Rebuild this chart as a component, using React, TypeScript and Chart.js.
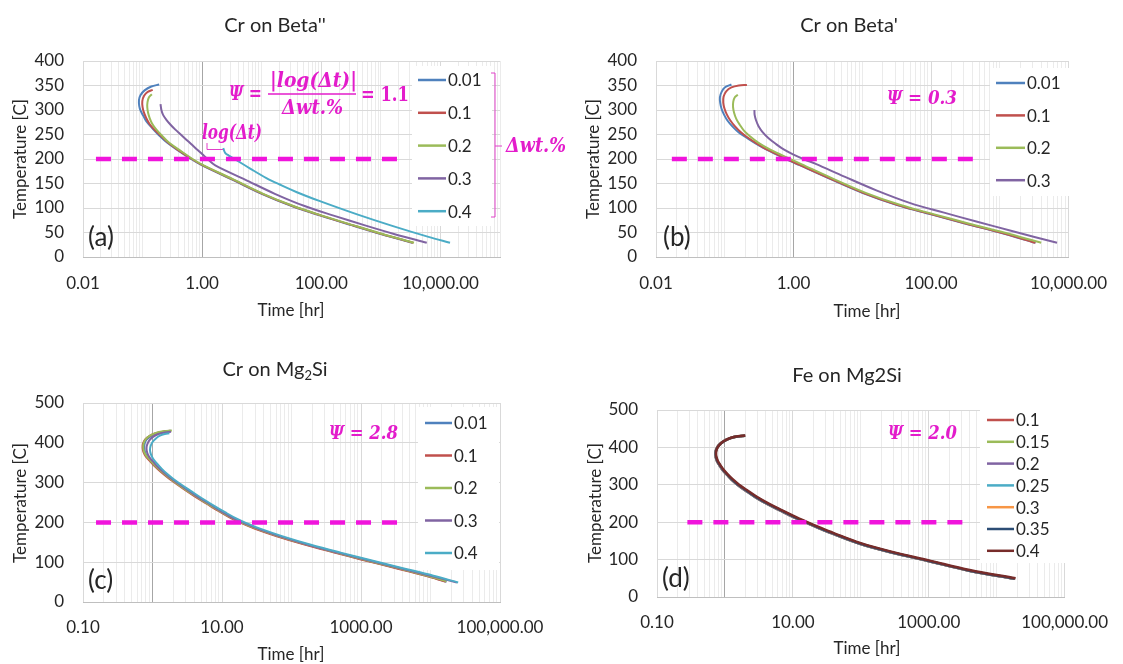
import React, { useEffect, useRef } from 'react';
import { Chart, registerables } from 'chart.js';

Chart.register(...registerables);

const W = 1123;
const H = 664;
const SANS = 'Lato, "Open Sans", "Noto Sans", sans-serif';
const SERIF = '"DejaVu Serif", "Liberation Serif", serif';
const INK = '#262626';
const MAGENTA = '#F014DC';
const MAGENTA_TEXT = '#E31CCB';
const Y_AXIS_W = 60;
const X_AXIS_H = 50;

// ---------- tick labels ----------
const X_MAJOR_AB = [0.01, 1, 100, 10000];
const X_LABEL_AB = ['0.01', '1.00', '100.00', '10,000.00'];
const X_MAJOR_CD = [0.1, 10, 1000, 100000];
const X_LABEL_CD = ['0.10', '10.00', '1000.00', '100,000.00'];

// ---------- legends / colours ----------
const LEGEND_ABC = ['0.01', '0.1', '0.2', '0.3', '0.4'];
const LEGEND_AB4 = ['0.01', '0.1', '0.2', '0.3'];
const LEGEND_D = ['0.1', '0.15', '0.2', '0.25', '0.3', '0.35', '0.4'];
const COLORS_ABC = ['#4F81BD', '#C0504D', '#9BBB59', '#8064A2', '#4BACC6'];
const COLORS_D = ['#C0504D', '#9BBB59', '#8064A2', '#4BACC6', '#F79646', '#2C4D75', '#772C2A'];

// ---------- (a) Cr on Beta''  [time hr, temperature C] ----------
const A_001 = [[0.19,352],[0.14,348],[0.108,340],[0.092,330],[0.087,320],[0.088,308],[0.093,298],[0.103,288],[0.117,276],[0.145,263],[0.19,248],[0.26,233],[0.40,217],[0.65,200],[1.0,187],[3.2,158],[10,129],[32,104],[100,84],[320,65],[1000,47],[3400,29]];
const A_01 = [[0.148,341],[0.122,337],[0.106,329],[0.099,318],[0.1,306],[0.106,294],[0.116,283],[0.13,272],[0.155,261],[0.2,248],[0.27,233],[0.41,217],[0.67,200],[1.03,187],[3.3,158],[10.3,129],[33,104],[103,84],[330,65],[1030,47],[3500,29]];
const A_02 = [[0.143,332],[0.128,326],[0.121,316],[0.12,305],[0.124,294],[0.132,283],[0.145,272],[0.168,261],[0.21,248],[0.28,233],[0.43,217],[0.69,200],[1.06,187],[3.4,158],[10.6,129],[34,104],[106,84],[340,65],[1060,47],[3600,29]];
const A_03 = [[0.2,312],[0.207,300],[0.221,290],[0.251,280],[0.295,270],[0.355,260],[0.437,250],[0.537,240],[0.66,230],[0.81,220],[1.0,210],[1.23,200],[1.66,187],[5.25,158],[16.6,129],[52.5,104],[166,84],[525,65],[1660,47],[5900,29]];
const A_04 = [[2.26,222],[2.45,212],[2.8,207],[3.5,200],[6.3,181],[12,161],[20,148],[45,129],[100,113],[400,87],[1600,63],[6300,41],[14500,29]];
const GUIDE_A = [[0.0165,200],[2450,200]];

// ---------- (b) Cr on Beta' ----------
const B_001 = [[0.125,352],[0.1,346],[0.09,337],[0.085,326],[0.086,314],[0.09,302],[0.098,290],[0.11,278],[0.13,266],[0.16,254],[0.2,245],[0.28,232],[0.42,218],[0.78,200],[1.2,188],[3.2,161],[10,131],[32,106],[100,87],[320,68],[1000,50],[3300,29]];
const B_01 = [[0.21,351],[0.16,350],[0.125,346],[0.105,338],[0.096,327],[0.095,315],[0.099,303],[0.107,291],[0.12,279],[0.14,267],[0.17,255],[0.21,245],[0.29,232],[0.43,218],[0.8,200],[1.23,188],[3.3,161],[10.3,131],[33,106],[103,87],[330,68],[1030,50],[3300,29]];
const B_02 = [[0.155,331],[0.14,326],[0.133,317],[0.132,306],[0.137,294],[0.147,282],[0.165,270],[0.19,258],[0.23,247],[0.31,233],[0.46,219],[0.86,201],[1.32,189],[3.6,161],[11.2,131],[36,106],[112,87],[360,68],[1150,50],[4000,29]];
const B_03 = [[0.27,300],[0.272,290],[0.285,279],[0.31,267],[0.355,255],[0.43,243],[0.55,231],[0.73,219],[1.0,209],[1.45,199],[2.1,190],[5.5,164],[16,136],[50,110],[150,91],[470,72],[1500,53],[6800,29]];
const GUIDE_B = [[0.017,200],[415,200]];

// ---------- (c) Cr on Mg2Si ----------
const C_001 = [[1.85,430],[1.45,428],[1.15,424],[0.95,417],[0.82,408],[0.77,398],[0.76,388],[0.78,377],[0.84,366],[0.97,354],[1.13,341],[1.36,328],[1.68,315],[2.1,302],[2.95,284],[4.2,266],[6.3,247],[9.5,228],[13.7,212],[19,200],[31.5,184],[63,166],[158,145],[420,125],[1050,107],[3150,86],[8400,67],[17000,51]];
const C_01 = [[1.8,430],[1.4,428],[1.1,424],[0.9,417],[0.78,408],[0.73,398],[0.72,388],[0.74,377],[0.8,366],[0.92,354],[1.08,341],[1.3,328],[1.6,315],[2.0,302],[2.8,284],[4.0,266],[6.0,247],[9.0,228],[13,212],[18,200],[30,184],[60,166],[150,145],[400,125],[1000,107],[3000,86],[8000,67],[16600,51]];
const C_02 = [[1.9,431],[1.45,429],[1.12,425],[0.92,418],[0.8,409],[0.745,399],[0.735,389],[0.755,378],[0.815,367],[0.94,355],[1.1,342],[1.33,329],[1.63,316],[2.04,303],[2.85,285],[4.1,267],[6.1,248],[9.2,229],[13.3,213],[18.4,201],[30.6,185],[61,167],[153,146],[408,126],[1020,108],[3060,87],[8200,68],[17000,52]];
const C_03 = [[1.85,428],[1.5,426],[1.22,422],[1.02,415],[0.9,406],[0.84,396],[0.82,386],[0.84,375],[0.9,364],[1.03,352],[1.2,339],[1.45,326],[1.78,313],[2.25,300],[3.15,282],[4.5,264],[6.8,245],[10.2,226],[14.8,210],[20.5,199],[34,183],[69,165],[175,144],[470,124],[1200,106],[3700,85],[10000,66],[24000,49]];
const C_04 = [[1.75,424],[1.5,422],[1.28,418],[1.12,411],[1.0,402],[0.94,392],[0.92,382],[0.95,371],[1.02,360],[1.16,348],[1.35,335],[1.62,322],[2.0,309],[2.5,297],[3.5,280],[5.0,262],[7.5,243],[11.2,225],[16,210],[22,199],[37,183],[75,165],[190,144],[510,124],[1300,106],[4000,85],[11000,66],[25000,49]];
const GUIDE_C = [[0.154,200],[4260,200]];

// ---------- (d) Fe on Mg2Si ----------
const D_LOW = [[1.95,431],[1.5,429],[1.17,424],[0.95,416],[0.81,406],[0.745,395],[0.725,384],[0.735,373],[0.77,362],[0.84,351],[0.93,339],[1.07,327],[1.25,314],[1.53,300],[2.0,285],[2.8,267],[4.25,248],[6.7,230],[10.4,213],[15,200],[23.5,185],[37.5,170],[94,143],[282,119],[940,97],[3760,71],[18000,49]];
const D_MID = [[1.98,431],[1.52,429],[1.18,424],[0.96,416],[0.82,406],[0.75,395],[0.73,384],[0.74,373],[0.78,362],[0.85,351],[0.945,339],[1.08,327],[1.27,314],[1.56,300],[2.05,285],[2.87,267],[4.37,248],[6.9,230],[10.7,213],[15.5,200],[24.2,185],[38.8,170],[97,143],[291,119],[970,97],[3880,71],[18500,49]];
const D_HIGH = [[2.0,432],[1.55,430],[1.2,425],[0.97,417],[0.83,407],[0.76,396],[0.74,385],[0.75,374],[0.79,363],[0.86,352],[0.96,340],[1.1,328],[1.3,315],[1.6,301],[2.1,286],[2.95,268],[4.5,249],[7.1,231],[11,214],[16,201],[25,186],[40,171],[100,144],[300,120],[1000,98],[4000,72],[19000,50]];
const GUIDE_D = [[0.28,200],[3160,200]];

type Pt = number[];
type Series = { label: string; color: string; data: Pt[] };
type Run = { t: string; sub?: boolean };
type Spec = {
  id: string;
  plot: { l: number; t: number; r: number; b: number };
  xMin: number; xMax: number; majors: number[]; labels: string[];
  yMax: number; yStep: number;
  series: Series[]; guide: Pt[]; lineWidth: number;
  title: Run[]; titleX: number; titleY: number;
  xTitle: { x: number; y: number }; yTitle: { x: number; y: number };
  tickPad: number;
  panel: { text: string; x: number; y: number };
  legend: { x0: number; x1: number; tx: number; y0: number; dy: number; box: number[] };
  extra: (ctx: CanvasRenderingContext2D) => void;
};

// gridline positions: 1..9 x 10^n between min and max
function buildLogTicks(min: number, max: number) {
  const out: number[] = [];
  let m = min;
  while (m <= max * 1.000001) {
    for (let k = 1; k <= 9; k++) {
      const v = m * k;
      if (v <= max * 1.000001) out.push(v);
    }
    m *= 10;
  }
  return out;
}

function majorIndex(v: number, majors: number[]) {
  for (let i = 0; i < majors.length; i++) if (Math.abs(v / majors[i] - 1) < 1e-6) return i;
  return -1;
}

function drawFit(ctx: CanvasRenderingContext2D, text: string, x0: number, x1: number, base: number, font: string, color: string) {
  ctx.save();
  ctx.font = font;
  const w = ctx.measureText(text).width;
  const sx = (x1 - x0) / w;
  ctx.translate(x0, base);
  ctx.scale(sx, 1);
  ctx.fillStyle = color;
  ctx.textAlign = 'left';
  ctx.textBaseline = 'alphabetic';
  ctx.fillText(text, 0, 0);
  ctx.restore();
}

function drawRuns(ctx: CanvasRenderingContext2D, runs: Run[], cx: number, base: number, size: number) {
  const fontN = `${size}px ${SANS}`;
  const fontS = `${Math.round(size * 0.65)}px ${SANS}`;
  let total = 0;
  for (const r of runs) { ctx.font = r.sub ? fontS : fontN; total += ctx.measureText(r.t).width; }
  let x = cx - total / 2;
  ctx.fillStyle = INK;
  ctx.textAlign = 'left';
  ctx.textBaseline = 'alphabetic';
  for (const r of runs) {
    ctx.font = r.sub ? fontS : fontN;
    ctx.fillText(r.t, x, r.sub ? base + size * 0.22 : base);
    x += ctx.measureText(r.t).width;
  }
}

const MATH_FONT = `bold italic 20px ${SERIF}`;

function extraA(ctx: CanvasRenderingContext2D) {
  drawFit(ctx, 'Ψ =', 229, 262, 100, MATH_FONT, MAGENTA_TEXT);
  drawFit(ctx, '|log(Δt)|', 270, 357, 87, MATH_FONT, MAGENTA_TEXT);
  drawFit(ctx, 'Δwt.%', 282, 343, 114, MATH_FONT, MAGENTA_TEXT);
  drawFit(ctx, '= 1.1', 361, 409, 101, `bold 20px ${SERIF}`, MAGENTA_TEXT);
  ctx.save();
  ctx.strokeStyle = MAGENTA_TEXT;
  ctx.lineWidth = 1.6;
  ctx.beginPath(); ctx.moveTo(268, 94); ctx.lineTo(356, 94); ctx.stroke();
  ctx.restore();
  drawFit(ctx, 'log(Δt)', 202, 262, 139, MATH_FONT, MAGENTA_TEXT);
  ctx.save();
  ctx.lineWidth = 1;
  ctx.strokeStyle = '#E040C8';
  ctx.beginPath();
  ctx.moveTo(207, 143); ctx.lineTo(207, 149.5); ctx.lineTo(223, 149.5);
  ctx.stroke();
  ctx.beginPath();
  ctx.moveTo(491, 73); ctx.lineTo(495, 73); ctx.lineTo(495, 217); ctx.lineTo(491, 217);
  ctx.moveTo(495, 146); ctx.lineTo(502, 146);
  ctx.stroke();
  ctx.restore();
  drawFit(ctx, 'Δwt.%', 506, 566, 152, MATH_FONT, MAGENTA_TEXT);
}
function extraB(ctx: CanvasRenderingContext2D) {
  drawFit(ctx, 'Ψ = 0.3', 887, 957, 104, `bold italic 19px ${SERIF}`, MAGENTA_TEXT);
}
function extraC(ctx: CanvasRenderingContext2D) {
  drawFit(ctx, 'Ψ = 2.8', 329, 398, 439, `bold italic 19px ${SERIF}`, MAGENTA_TEXT);
}
function extraD(ctx: CanvasRenderingContext2D) {
  drawFit(ctx, 'Ψ = 2.0', 888, 957, 439, `bold italic 19px ${SERIF}`, MAGENTA_TEXT);
}

const SPEC_A: Spec = {
  id: 'a', plot: { l: 83, t: 61, r: 500, b: 257 },
  xMin: 0.01, xMax: 100000, majors: X_MAJOR_AB, labels: X_LABEL_AB, yMax: 400, yStep: 50,
  series: [A_001, A_01, A_02, A_03, A_04].map((d, i) => ({ label: LEGEND_ABC[i], color: COLORS_ABC[i], data: d })),
  guide: GUIDE_A, lineWidth: 2,
  title: [{ t: "Cr on Beta''" }], titleX: 275, titleY: 32,
  xTitle: { x: 291, y: 316 }, yTitle: { x: 21, y: 159 }, tickPad: 16,
  panel: { text: '(a)', x: 88, y: 246 },
  legend: { x0: 418, x1: 446, tx: 448, y0: 80, dy: 32.8, box: [412, 66, 80, 160] },
  extra: extraA,
};
const SPEC_B: Spec = {
  id: 'b', plot: { l: 656, t: 61, r: 1079, b: 257 },
  xMin: 0.01, xMax: 10000, majors: X_MAJOR_AB, labels: X_LABEL_AB, yMax: 400, yStep: 50,
  series: [B_001, B_01, B_02, B_03].map((d, i) => ({ label: LEGEND_AB4[i], color: COLORS_ABC[i], data: d })),
  guide: GUIDE_B, lineWidth: 2,
  title: [{ t: "Cr on Beta'" }], titleX: 849, titleY: 32,
  xTitle: { x: 867, y: 317 }, yTitle: { x: 594, y: 159 }, tickPad: 16,
  panel: { text: '(b)', x: 663, y: 246 },
  legend: { x0: 996, x1: 1025, tx: 1027, y0: 83, dy: 32.4, box: [990, 68, 88, 128] },
  extra: extraB,
};
const SPEC_C: Spec = {
  id: 'c', plot: { l: 83, t: 403, r: 500, b: 602 },
  xMin: 0.1, xMax: 100000, majors: X_MAJOR_CD, labels: X_LABEL_CD, yMax: 500, yStep: 100,
  series: [C_001, C_01, C_02, C_03, C_04].map((d, i) => ({ label: LEGEND_ABC[i], color: COLORS_ABC[i], data: d })),
  guide: GUIDE_C, lineWidth: 2,
  title: [{ t: 'Cr on Mg' }, { t: '2', sub: true }, { t: 'Si' }], titleX: 275, titleY: 376,
  xTitle: { x: 291, y: 660 }, yTitle: { x: 21, y: 503 }, tickPad: 15,
  panel: { text: '(c)', x: 88, y: 589 },
  legend: { x0: 425, x1: 452, tx: 454, y0: 423, dy: 32.5, box: [418, 407, 81, 163] },
  extra: extraC,
};
const SPEC_D: Spec = {
  id: 'd', plot: { l: 657, t: 410, r: 1077, b: 597 },
  xMin: 0.1, xMax: 100000, majors: X_MAJOR_CD, labels: X_LABEL_CD, yMax: 500, yStep: 100,
  series: [D_LOW, D_LOW, D_LOW, D_MID, D_MID, D_MID, D_HIGH].map((d, i) => ({ label: LEGEND_D[i], color: COLORS_D[i], data: d })),
  guide: GUIDE_D, lineWidth: 2.5,
  title: [{ t: 'Fe on Mg2Si' }], titleX: 847, titleY: 382,
  xTitle: { x: 867, y: 654 }, yTitle: { x: 596, y: 503 }, tickPad: 15,
  panel: { text: '(d)', x: 662, y: 587 },
  legend: { x0: 987, x1: 1014, tx: 1016, y0: 420, dy: 21.8, box: [980, 409, 96, 154] },
  extra: extraD,
};

function decoPlugin(spec: Spec) {
  return {
    id: 'deco_' + spec.id,
    afterDraw(chart: any) {
      const ctx: CanvasRenderingContext2D = chart.ctx;
      ctx.save();
      const lg = spec.legend;
      ctx.fillStyle = '#ffffff';
      ctx.fillRect(lg.box[0], lg.box[1], lg.box[2], lg.box[3]);
      spec.series.forEach((s, i) => {
        const y = lg.y0 + i * lg.dy;
        ctx.strokeStyle = s.color;
        ctx.lineWidth = 2.5;
        ctx.beginPath(); ctx.moveTo(lg.x0, y); ctx.lineTo(lg.x1, y); ctx.stroke();
        ctx.fillStyle = INK;
        ctx.font = `17px ${SANS}`;
        ctx.textAlign = 'left';
        ctx.textBaseline = 'middle';
        ctx.fillText(s.label, lg.tx, y + 1);
      });
      drawRuns(ctx, spec.title, spec.titleX, spec.titleY, 20);
      ctx.fillStyle = INK;
      ctx.font = `17px ${SANS}`;
      ctx.textAlign = 'center';
      ctx.textBaseline = 'alphabetic';
      ctx.fillText('Time [hr]', spec.xTitle.x, spec.xTitle.y);
      ctx.save();
      ctx.translate(spec.yTitle.x, spec.yTitle.y);
      ctx.rotate(-Math.PI / 2);
      ctx.textBaseline = 'middle';
      ctx.fillText('Temperature [C]', 0, 0);
      ctx.restore();
      ctx.font = `26px ${SANS}`;
      ctx.textAlign = 'left';
      ctx.textBaseline = 'alphabetic';
      ctx.fillText(spec.panel.text, spec.panel.x, spec.panel.y);
      ctx.restore();
      spec.extra(ctx);
    },
  };
}

function buildConfig(spec: Spec): any {
  const n = spec.series.length;
  const datasets: any[] = spec.series.map((s, i) => ({
    label: s.label,
    data: s.data.map((p) => ({ x: p[0], y: p[1] })),
    borderColor: s.color,
    backgroundColor: s.color,
    borderWidth: spec.lineWidth,
    pointRadius: 0,
    pointHoverRadius: 0,
    tension: 0.35,
    fill: false,
    order: n - i,
  }));
  datasets.push({
    label: 'guide',
    data: spec.guide.map((p) => ({ x: p[0], y: p[1] })),
    borderColor: MAGENTA,
    borderWidth: 4.5,
    borderDash: [15, 11],
    pointRadius: 0,
    tension: 0,
    fill: false,
    order: -1,
  });
  const ticks = buildLogTicks(spec.xMin, spec.xMax);
  return {
    type: 'line',
    data: { datasets },
    options: {
      responsive: false,
      animation: false,
      events: [],
      layout: {
        padding: {
          left: spec.plot.l - Y_AXIS_W,
          top: spec.plot.t,
          right: W - spec.plot.r,
          bottom: H - spec.plot.b - X_AXIS_H,
        },
      },
      plugins: { legend: { display: false }, tooltip: { enabled: false }, title: { display: false } },
      scales: {
        x: {
          type: 'logarithmic',
          min: spec.xMin,
          max: spec.xMax,
          afterBuildTicks: (s: any) => { s.ticks = ticks.map((v) => ({ value: v })); },
          afterFit: (s: any) => { s.height = X_AXIS_H; },
          ticks: {
            autoSkip: false,
            maxRotation: 0,
            minRotation: 0,
            padding: spec.tickPad,
            color: INK,
            font: { family: SANS, size: 17 },
            callback: (v: any) => {
              const i = majorIndex(Number(v), spec.majors);
              return i >= 0 ? spec.labels[i] : '';
            },
          },
          grid: {
            drawTicks: false,
            lineWidth: 1,
            color: (c: any) => {
              const v = c.tick ? c.tick.value : 0;
              if (Math.abs(v - 1) < 1e-9) return '#A6A6A6';
              if (majorIndex(v, spec.majors) >= 0) return '#D9D9D9';
              return '#EBEBEB';
            },
          },
          border: { display: true, color: '#BFBFBF', width: 1 },
        },
        y: {
          type: 'linear',
          min: 0,
          max: spec.yMax,
          afterFit: (s: any) => { s.width = Y_AXIS_W; },
          ticks: { stepSize: spec.yStep, padding: 19, color: INK, font: { family: SANS, size: 17 } },
          grid: {
            drawTicks: false,
            lineWidth: 1,
            color: (c: any) => (c.tick && c.tick.value === 0 ? '#BFBFBF' : '#D9D9D9'),
          },
          border: { display: false },
        },
      },
    },
    plugins: [decoPlugin(spec)],
  };
}

function Panel({ spec }: { spec: Spec }) {
  const ref = useRef<HTMLCanvasElement | null>(null);
  useEffect(() => {
    if (!ref.current) return;
    const chart = new Chart(ref.current, buildConfig(spec));
    return () => chart.destroy();
  }, [spec]);
  return (
    <canvas
      ref={ref}
      width={W}
      height={H}
      style={{ position: 'absolute', left: 0, top: 0, width: W, height: H }}
    />
  );
}

export default function App() {
  return (
    <div style={{ position: 'fixed', left: 0, top: 0, width: W, height: H, background: '#ffffff', overflow: 'hidden' }}>
      <Panel spec={SPEC_A} />
      <Panel spec={SPEC_B} />
      <Panel spec={SPEC_C} />
      <Panel spec={SPEC_D} />
    </div>
  );
}
